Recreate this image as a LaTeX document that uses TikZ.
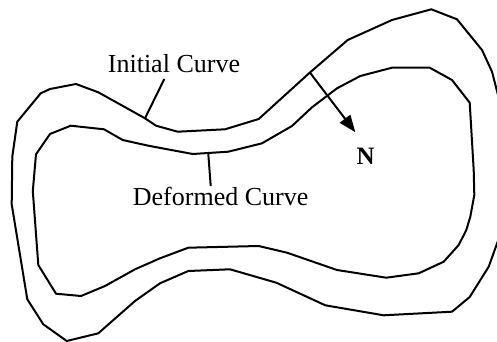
\documentclass[tikz,border=0pt]{standalone}
\usepackage{fontspec}
\setmainfont{Liberation Serif}
\usetikzlibrary{arrows.meta}
\begin{document}
\begin{tikzpicture}[x=1pt,y=-1pt,
  curve/.style={line width=2pt,line join=miter,line cap=round},
  leader/.style={line width=2pt},
  lbl/.style={font=\fontsize{26}{30}\selectfont,inner sep=0pt,anchor=base west},
  normal/.style={line width=2pt,-{Triangle[length=17pt,width=13pt]}}]
\useasboundingbox (0,0) rectangle (497,342);
\clip (0,0) rectangle (497,342);
% Initial (outer) curve
\draw[curve] (11.7,204.3) -- (12.3,156.7) -- (17.3,121.7) -- (40.7,93.3) -- (50,89) -- (76,84) -- (98.3,92.3)
  -- (145,118.3) -- (156,125.7) -- (177.7,131.7) -- (225,129.3) -- (258.7,119) -- (309.7,72.7)
  -- (347.7,40) -- (392,20) -- (431.3,9.3) -- (457,19.3) -- (482,50) -- (492,71.7) -- (498,95)
  -- (502,140) -- (502,200) -- (499,238) -- (488.7,266.7) -- (469.7,297) -- (452,311.7)
  -- (383.7,315.3) -- (325.3,305.3) -- (276.3,282.7) -- (230,269.3) -- (188.3,271) -- (160,283.3)
  -- (135,301) -- (98.3,333.3) -- (66.7,341) -- (43.3,324.3) -- (27.3,299.3) -- cycle;
% Deformed (inner) curve
\draw[curve] (36,154.3) -- (50,134) -- (70.7,125.7) -- (104,129.3) -- (122.7,140) -- (148.3,145.7)
  -- (192.7,154) -- (228.3,151.7) -- (262,143.3) -- (292,126) -- (312,107.3) -- (337,88.3)
  -- (360.3,76) -- (392,67.7) -- (429.7,67.7) -- (452,80) -- (469.7,102.7) -- (473.7,170)
  -- (474.3,195) -- (470.3,216.7) -- (466.3,230) -- (458.7,245) -- (443.7,261.7) -- (418.7,273.3)
  -- (386.3,277.7) -- (337,270) -- (287,252.7) -- (258.7,246) -- (188.3,247.7) -- (160,258.3)
  -- (135,269.3) -- (105,286) -- (81,296) -- (56,293.7) -- (38.3,265) -- (32.8,191) -- cycle;
% labels
\node[lbl] (init) at (107.7,72.7) {Initial Curve};
\node[lbl] (def) at (132.7,205.5) {Deformed Curve};
\node[lbl,font=\fontsize{25}{30}\selectfont\bfseries] (N) at (356.5,164) {N};
\coordinate (iA) at (164.3,79);
\coordinate (iB) at (145,118.3);
\coordinate (dA) at (208.3,154);
\coordinate (dB) at (210.7,186);
\coordinate (nA) at (310,72.7);
\coordinate (nB) at (355.3,132.2);
\draw[leader] (iA) -- (iB);
\draw[leader] (dA) -- (dB);
\draw[normal] (nA) -- (nB);
\end{tikzpicture}
\end{document}
